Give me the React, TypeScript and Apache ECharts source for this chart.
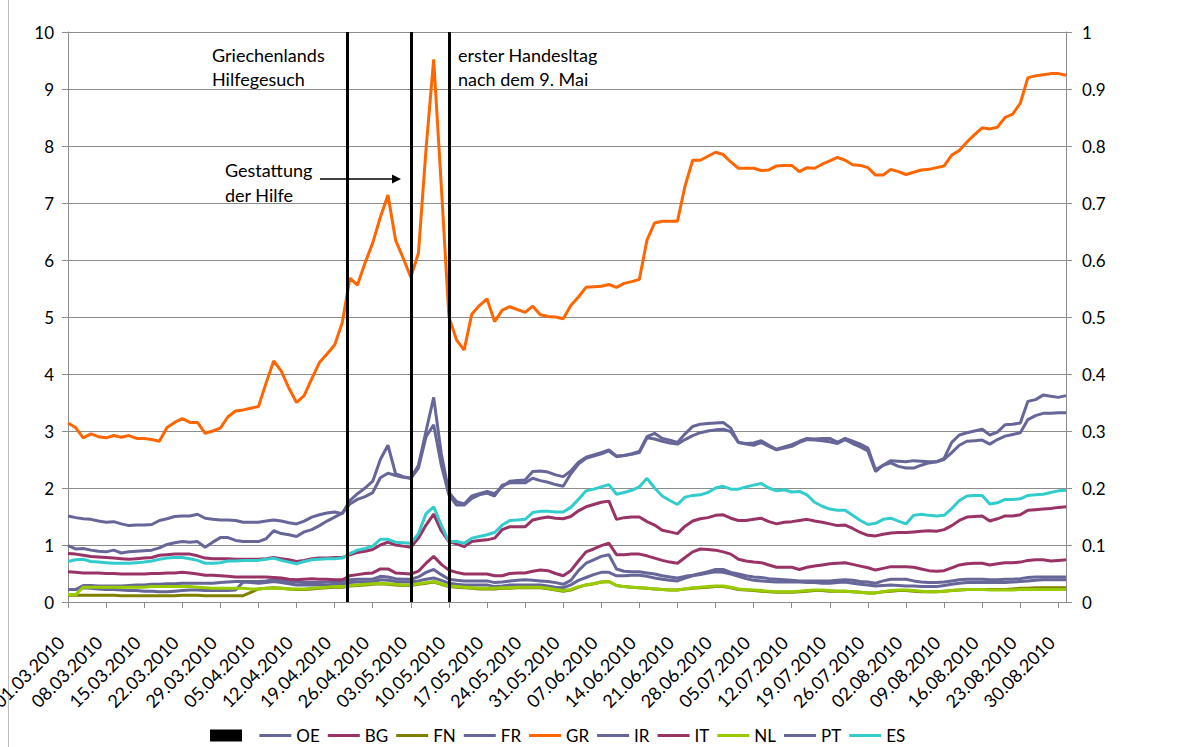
import React, { useEffect, useRef } from "react";
import * as echarts from "echarts";

// Business-day categories from 01.03.2010 (132 trading days)
function buildDates(count: number): string[] {
  const out: string[] = [];
  const d = new Date(Date.UTC(2010, 2, 1));
  while (out.length < count) {
    const wd = d.getUTCDay();
    if (wd !== 0 && wd !== 6) {
      const dd = String(d.getUTCDate()).padStart(2, "0");
      const mm = String(d.getUTCMonth() + 1).padStart(2, "0");
      out.push(`${dd}.${mm}.${d.getUTCFullYear()}`);
    }
    d.setUTCDate(d.getUTCDate() + 1);
  }
  return out;
}
const dates: string[] = buildDates(132);

const leftTicks = [0, 10, 1];
const rightTicks = [0, 1, 0.1];

// Event markers (position in trading-day index)
const eventPositions = [36.6, 45.1, 50.1];

const GR = [3.14,3.06,2.88,2.95,2.90,2.88,2.92,2.89,2.92,2.87,
2.87,2.85,2.82,3.06,3.15,3.22,3.15,3.15,2.96,3.00,
3.05,3.25,3.35,3.37,3.40,3.43,3.84,4.23,4.05,3.75,
3.50,3.62,3.92,4.20,4.35,4.51,4.90,5.68,5.56,5.95,
6.30,6.75,7.14,6.35,6.03,5.70,6.12,7.95,9.52,7.30,
5.00,4.60,4.42,5.05,5.20,5.32,4.92,5.12,5.18,5.13,
5.08,5.19,5.04,5.01,5.00,4.97,5.20,5.35,5.52,5.53,
5.54,5.57,5.52,5.59,5.62,5.66,6.35,6.65,6.68,6.68,
6.68,7.30,7.75,7.75,7.82,7.89,7.85,7.72,7.61,7.61,
7.61,7.57,7.58,7.65,7.66,7.66,7.55,7.62,7.61,7.68,
7.74,7.80,7.75,7.67,7.66,7.62,7.49,7.49,7.59,7.55,
7.50,7.54,7.58,7.59,7.62,7.65,7.84,7.92,8.07,8.20,
8.32,8.30,8.33,8.50,8.56,8.75,9.20,9.23,9.25,9.27,
9.27,9.24];

const IR = [1.51,1.48,1.46,1.45,1.42,1.40,1.41,1.37,1.34,1.35,
1.35,1.36,1.43,1.46,1.50,1.51,1.51,1.54,1.47,1.45,
1.44,1.44,1.43,1.40,1.40,1.40,1.42,1.44,1.42,1.39,
1.37,1.42,1.49,1.53,1.56,1.58,1.55,1.78,1.90,2.00,
2.12,2.50,2.75,2.25,2.20,2.17,2.40,3.00,3.59,2.60,
1.92,1.76,1.72,1.86,1.90,1.94,1.90,2.02,2.12,2.13,
2.14,2.29,2.30,2.28,2.23,2.20,2.30,2.45,2.54,2.58,
2.62,2.67,2.56,2.57,2.60,2.64,2.90,2.96,2.87,2.84,
2.80,2.95,3.08,3.12,3.13,3.14,3.15,3.05,2.80,2.78,
2.79,2.83,2.75,2.68,2.72,2.76,2.82,2.87,2.86,2.87,
2.87,2.80,2.87,2.82,2.77,2.70,2.32,2.40,2.48,2.47,
2.46,2.48,2.47,2.46,2.46,2.52,2.80,2.93,2.97,3.00,
3.03,2.93,2.98,3.11,3.12,3.14,3.52,3.55,3.63,3.61,
3.59,3.62];

const PT = [0.99,0.93,0.94,0.91,0.89,0.88,0.91,0.86,0.88,0.89,
0.90,0.91,0.95,1.01,1.04,1.06,1.05,1.06,0.96,1.05,
1.13,1.13,1.08,1.06,1.06,1.06,1.11,1.25,1.20,1.18,
1.15,1.23,1.27,1.34,1.42,1.49,1.56,1.72,1.80,1.85,
1.92,2.18,2.26,2.22,2.19,2.17,2.35,2.90,3.11,2.40,
1.88,1.70,1.70,1.82,1.88,1.91,1.86,2.05,2.09,2.09,
2.09,2.17,2.13,2.10,2.06,2.03,2.25,2.42,2.52,2.56,
2.60,2.65,2.55,2.57,2.59,2.62,2.88,2.86,2.82,2.79,
2.77,2.85,2.92,2.97,3.00,3.02,3.03,2.99,2.80,2.77,
2.75,2.80,2.73,2.67,2.70,2.73,2.80,2.85,2.84,2.83,
2.81,2.78,2.85,2.78,2.72,2.65,2.29,2.40,2.44,2.38,
2.35,2.35,2.40,2.44,2.46,2.50,2.62,2.75,2.82,2.83,
2.84,2.77,2.85,2.91,2.94,2.97,3.20,3.27,3.31,3.31,
3.32,3.32];

const ES = [0.71,0.74,0.75,0.71,0.70,0.69,0.68,0.68,0.68,0.69,
0.70,0.72,0.75,0.77,0.78,0.78,0.76,0.73,0.68,0.68,
0.69,0.72,0.72,0.73,0.73,0.73,0.75,0.77,0.73,0.70,
0.67,0.71,0.74,0.75,0.76,0.76,0.77,0.85,0.91,0.94,
0.98,1.10,1.10,1.05,1.04,1.03,1.20,1.55,1.67,1.35,
1.06,1.06,1.03,1.12,1.15,1.18,1.22,1.35,1.43,1.44,
1.45,1.57,1.59,1.59,1.58,1.58,1.66,1.80,1.95,1.98,
2.02,2.06,1.89,1.92,1.96,2.02,2.17,2.00,1.86,1.78,
1.71,1.84,1.87,1.88,1.92,2.00,2.03,1.98,1.98,2.02,
2.05,2.08,2.00,1.95,1.97,1.93,1.94,1.88,1.75,1.68,
1.63,1.61,1.61,1.52,1.43,1.36,1.38,1.45,1.47,1.42,
1.37,1.52,1.54,1.52,1.51,1.52,1.64,1.78,1.86,1.87,
1.87,1.72,1.74,1.80,1.80,1.81,1.87,1.88,1.89,1.92,
1.95,1.96];

const IT = [0.85,0.84,0.82,0.80,0.79,0.78,0.77,0.76,0.75,0.76,
0.77,0.78,0.82,0.83,0.84,0.84,0.84,0.81,0.77,0.76,
0.76,0.76,0.75,0.75,0.75,0.75,0.76,0.78,0.76,0.74,
0.71,0.73,0.76,0.77,0.77,0.78,0.78,0.83,0.87,0.89,
0.92,1.00,1.05,1.00,0.98,0.96,1.12,1.35,1.54,1.25,
1.06,1.02,0.97,1.06,1.08,1.09,1.12,1.27,1.32,1.32,
1.32,1.44,1.47,1.49,1.47,1.46,1.50,1.60,1.67,1.71,
1.75,1.77,1.45,1.48,1.49,1.49,1.41,1.35,1.26,1.23,
1.20,1.33,1.42,1.46,1.48,1.52,1.53,1.47,1.43,1.43,
1.45,1.47,1.41,1.37,1.40,1.41,1.43,1.45,1.42,1.40,
1.37,1.34,1.35,1.29,1.22,1.17,1.16,1.19,1.21,1.22,
1.22,1.23,1.24,1.25,1.24,1.27,1.34,1.43,1.49,1.50,
1.51,1.42,1.46,1.51,1.51,1.53,1.61,1.62,1.63,1.64,
1.66,1.67];

const BG = [0.53,0.52,0.51,0.51,0.51,0.50,0.50,0.49,0.49,0.49,
0.49,0.50,0.50,0.51,0.51,0.52,0.51,0.49,0.47,0.47,
0.46,0.45,0.44,0.44,0.44,0.44,0.44,0.43,0.42,0.40,
0.39,0.40,0.41,0.40,0.40,0.39,0.39,0.46,0.48,0.50,
0.51,0.58,0.58,0.51,0.50,0.49,0.54,0.68,0.80,0.66,
0.56,0.52,0.49,0.49,0.49,0.49,0.46,0.46,0.50,0.51,
0.51,0.54,0.56,0.55,0.50,0.46,0.55,0.72,0.88,0.93,
0.99,1.03,0.83,0.83,0.84,0.84,0.81,0.77,0.73,0.70,
0.68,0.78,0.88,0.93,0.92,0.91,0.88,0.84,0.75,0.72,
0.70,0.69,0.65,0.61,0.61,0.61,0.57,0.61,0.63,0.65,
0.67,0.68,0.69,0.66,0.63,0.60,0.56,0.59,0.62,0.62,
0.62,0.61,0.58,0.55,0.54,0.55,0.60,0.65,0.67,0.68,
0.68,0.65,0.67,0.69,0.69,0.70,0.73,0.74,0.74,0.72,
0.73,0.74];

const OE = [0.22,0.22,0.29,0.29,0.28,0.28,0.28,0.28,0.29,0.30,
0.30,0.31,0.31,0.32,0.32,0.33,0.33,0.33,0.33,0.33,
0.34,0.35,0.36,0.36,0.36,0.36,0.37,0.39,0.38,0.36,
0.35,0.34,0.34,0.34,0.35,0.36,0.36,0.39,0.40,0.40,
0.40,0.45,0.44,0.41,0.40,0.40,0.44,0.52,0.57,0.48,
0.40,0.38,0.37,0.37,0.37,0.37,0.34,0.35,0.37,0.38,
0.39,0.38,0.37,0.36,0.34,0.31,0.38,0.55,0.68,0.74,
0.80,0.83,0.58,0.54,0.53,0.53,0.51,0.49,0.46,0.44,
0.42,0.45,0.47,0.50,0.53,0.57,0.57,0.52,0.49,0.46,
0.44,0.43,0.41,0.40,0.39,0.38,0.37,0.37,0.37,0.37,
0.37,0.38,0.39,0.38,0.36,0.35,0.33,0.37,0.40,0.40,
0.40,0.37,0.35,0.34,0.34,0.35,0.37,0.39,0.40,0.40,
0.40,0.39,0.39,0.40,0.40,0.41,0.43,0.44,0.44,0.44,
0.44,0.44];

const FR = [0.22,0.22,0.25,0.24,0.23,0.22,0.22,0.21,0.20,0.20,
0.19,0.19,0.18,0.18,0.19,0.20,0.21,0.21,0.20,0.20,
0.20,0.20,0.21,0.35,0.34,0.33,0.34,0.36,0.34,0.32,
0.30,0.30,0.30,0.30,0.30,0.31,0.31,0.34,0.35,0.35,
0.35,0.39,0.38,0.36,0.35,0.35,0.37,0.40,0.42,0.38,
0.33,0.31,0.30,0.30,0.30,0.30,0.27,0.28,0.30,0.30,
0.30,0.30,0.30,0.28,0.26,0.25,0.30,0.38,0.43,0.48,
0.52,0.52,0.46,0.46,0.47,0.47,0.45,0.42,0.40,0.38,
0.37,0.42,0.46,0.48,0.51,0.53,0.52,0.49,0.45,0.41,
0.38,0.37,0.36,0.35,0.35,0.35,0.35,0.34,0.34,0.33,
0.33,0.34,0.35,0.33,0.31,0.30,0.28,0.29,0.30,0.29,
0.28,0.28,0.27,0.27,0.27,0.29,0.31,0.33,0.34,0.34,
0.34,0.34,0.34,0.34,0.35,0.36,0.37,0.38,0.39,0.39,
0.39,0.39];

const FN = [0.12,0.12,0.12,0.12,0.12,0.12,0.12,0.11,0.11,0.11,
0.11,0.11,0.11,0.11,0.11,0.12,0.12,0.12,0.11,0.11,
0.11,0.11,0.11,0.11,0.17,0.23,0.24,0.25,0.24,0.23,
0.22,0.22,0.23,0.24,0.25,0.26,0.26,0.28,0.29,0.30,
0.31,0.32,0.31,0.30,0.29,0.29,0.31,0.33,0.35,0.31,
0.27,0.26,0.25,0.24,0.23,0.23,0.23,0.24,0.24,0.25,
0.25,0.25,0.25,0.23,0.21,0.19,0.21,0.26,0.30,0.32,
0.35,0.36,0.29,0.27,0.26,0.25,0.24,0.23,0.22,0.21,
0.21,0.23,0.24,0.25,0.26,0.27,0.27,0.25,0.22,0.21,
0.20,0.19,0.18,0.17,0.17,0.17,0.18,0.19,0.20,0.20,
0.19,0.19,0.19,0.18,0.17,0.16,0.16,0.18,0.19,0.20,
0.20,0.19,0.18,0.18,0.18,0.19,0.20,0.21,0.22,0.22,
0.22,0.22,0.22,0.22,0.23,0.24,0.24,0.25,0.25,0.25,
0.25,0.25];

const NL = [0.13,0.13,0.26,0.26,0.26,0.26,0.26,0.26,0.26,0.26,
0.26,0.27,0.27,0.27,0.27,0.27,0.27,0.26,0.25,0.24,
0.24,0.24,0.24,0.24,0.23,0.23,0.24,0.24,0.24,0.23,
0.23,0.23,0.24,0.25,0.26,0.27,0.27,0.29,0.30,0.31,
0.32,0.33,0.32,0.31,0.30,0.30,0.32,0.34,0.36,0.32,
0.28,0.27,0.26,0.25,0.24,0.24,0.24,0.25,0.25,0.26,
0.26,0.26,0.26,0.24,0.22,0.20,0.22,0.27,0.30,0.32,
0.35,0.36,0.29,0.27,0.26,0.25,0.24,0.23,0.22,0.21,
0.21,0.23,0.25,0.26,0.27,0.28,0.28,0.26,0.23,0.22,
0.21,0.20,0.19,0.18,0.18,0.18,0.19,0.20,0.21,0.21,
0.20,0.19,0.19,0.18,0.17,0.16,0.16,0.18,0.20,0.21,
0.21,0.20,0.19,0.18,0.18,0.19,0.20,0.21,0.22,0.22,
0.22,0.21,0.21,0.21,0.21,0.22,0.22,0.22,0.22,0.22,
0.22,0.22];

const seriesNames = ["OE", "BG", "FN", "FR", "GR", "IR", "IT", "NL", "PT", "ES"];
const seriesValues = [OE, BG, FN, FR, GR, IR, IT, NL, PT, ES];
const seriesColors = ["#666699", "#993366", "#808000", "#666699", "#FF6600", "#666699", "#993366", "#99CC00", "#666699", "#33CCCC"];

const FONT = "Lato, 'Open Sans', sans-serif";
const GRID_COLOR = "#8c8c8c";
const LINE_ICON = "path://M0,0H32V3H0Z";

export default function App() {
  const ref = useRef<HTMLDivElement>(null);
  useEffect(() => {
    if (!ref.current) return;
    const chart = echarts.init(ref.current, undefined, { renderer: "svg" });
    const lines = seriesNames.map((name, k) => ({
      name,
      type: "line",
      data: seriesValues[k],
      xAxisIndex: 0,
      yAxisIndex: 0,
      showSymbol: false,
      symbol: "none",
      color: seriesColors[k],
      itemStyle: { color: seriesColors[k] },
      lineStyle: { width: 3, color: seriesColors[k] },
      z: 3,
    }));
    chart.setOption({
      animation: false,
      textStyle: { fontFamily: FONT },
      grid: { left: 68, right: 135, top: 32, bottom: 145, containLabel: false, outerBoundsMode: "none" },
      legend: {
        data: [
          { name: " ", icon: "rect", itemStyle: { color: "#000" } },
          ...seriesNames.map((n, k) => ({ name: n, icon: LINE_ICON, itemStyle: { color: seriesColors[k] } })),
        ],
        left: 205,
        top: 722,
        itemWidth: 32,
        itemHeight: 12,
        itemGap: 8,
        symbolKeepAspect: true,
        textStyle: { fontFamily: FONT, fontSize: 17, color: "#000" },
      },
      xAxis: [
        {
          type: "category",
          data: dates,
          boundaryGap: false,
          axisLine: { lineStyle: { color: GRID_COLOR, width: 1 } },
          axisTick: { show: true, interval: 4, length: 6, lineStyle: { color: GRID_COLOR } },
          axisLabel: {
            interval: 4,
            rotate: 45,
            margin: 30,
            padding: [0, 10, 0, 0],
            showMinLabel: true,
            fontFamily: FONT,
            fontSize: 18,
            color: "#000",
          },
          splitLine: { show: false },
        },
        { type: "value", min: 0, max: 131, show: false, gridIndex: 0 },
      ],
      yAxis: [
        {
          type: "value",
          min: leftTicks[0],
          max: leftTicks[1],
          interval: leftTicks[2],
          axisLine: { show: true, lineStyle: { color: GRID_COLOR } },
          axisTick: { show: true, length: 6, lineStyle: { color: GRID_COLOR } },
          axisLabel: { fontFamily: FONT, fontSize: 17, color: "#000", margin: 14 },
          splitLine: { show: true, lineStyle: { color: GRID_COLOR, width: 1 } },
        },
        {
          type: "value",
          position: "right",
          min: rightTicks[0],
          max: rightTicks[1],
          interval: rightTicks[2],
          axisLine: { show: true, lineStyle: { color: GRID_COLOR } },
          axisTick: { show: true, length: 6, lineStyle: { color: GRID_COLOR } },
          axisLabel: { fontFamily: FONT, fontSize: 17, color: "#000", margin: 16 },
          splitLine: { show: false },
        },
      ],
      series: [
        {
          name: " ",
          type: "line",
          xAxisIndex: 1,
          yAxisIndex: 0,
          data: [],
          color: "#000",
          symbol: "none",
          z: 10,
          markLine: {
            silent: true,
            symbol: ["none", "none"],
            label: { show: false },
            lineStyle: { color: "#000", width: 3, type: "solid" },
            data: eventPositions.map((p) => ({ xAxis: p })),
            z: 10,
          },
        },
        ...lines,
      ],
      graphic: [
        {
          type: "text",
          left: 212,
          top: 43,
          style: { text: "Griechenlands\nHilfegesuch", fontFamily: FONT, fontSize: 18, lineHeight: 24, fill: "#000" },
        },
        {
          type: "text",
          left: 458,
          top: 43,
          style: { text: "erster Handesltag\nnach dem 9. Mai", fontFamily: FONT, fontSize: 18, lineHeight: 24, fill: "#000" },
        },
        {
          type: "text",
          left: 225,
          top: 157,
          style: { text: "Gestattung\nder Hilfe", fontFamily: FONT, fontSize: 18, lineHeight: 25, fill: "#000" },
        },
        {
          type: "line",
          shape: { x1: 320, y1: 179, x2: 394, y2: 179 },
          style: { stroke: "#000", lineWidth: 1.5 },
        },
        {
          type: "polygon",
          shape: { points: [[392, 174.5], [401, 179], [392, 183.5]] },
          style: { fill: "#000" },
        },
        {
          type: "line",
          shape: { x1: 8.5, y1: 0, x2: 8.5, y2: 747 },
          style: { stroke: "#bdbdbd", lineWidth: 1 },
        },
      ],
    });
    return () => chart.dispose();
  }, []);
  return (
    <div
      ref={ref}
      style={{ position: "fixed", left: 0, top: 0, width: 1201, height: 747, background: "#fff" }}
    />
  );
}
